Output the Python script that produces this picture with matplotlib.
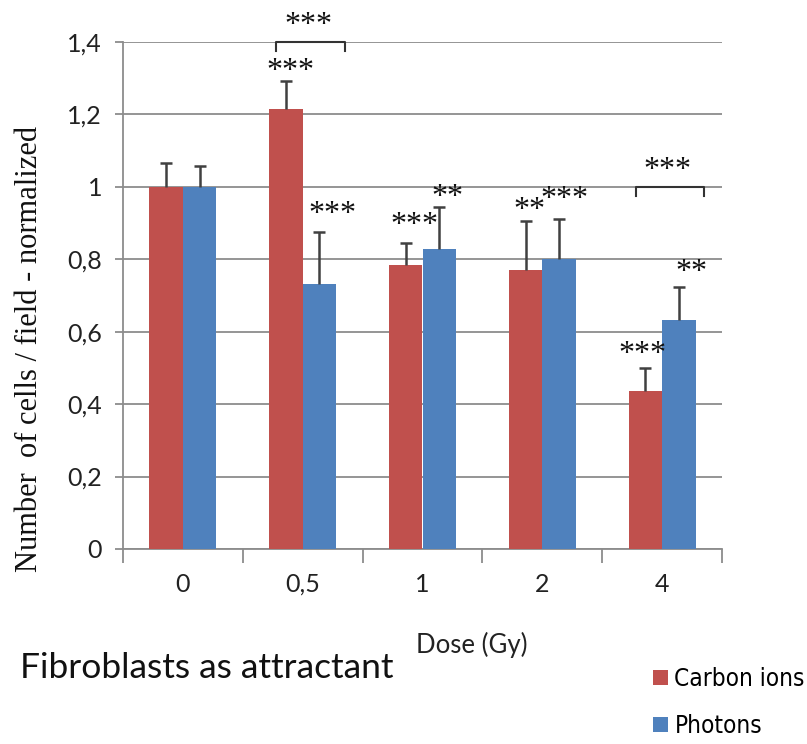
import numpy as np
import matplotlib.pyplot as plt
from matplotlib.ticker import FixedLocator, FuncFormatter

# DATA
DOSES = ["0", "0,5", "1", "2", "4"]
CARBON = [1.0, 1.215, 0.783, 0.770, 0.435]
CARBON_ERR = [0.066, 0.078, 0.061, 0.137, 0.065]
PHOTONS = [1.0, 0.733, 0.829, 0.801, 0.631]
PHOTONS_ERR = [0.058, 0.141, 0.116, 0.110, 0.093]
CARBON_SIG = ["", "***", "***", "**", "***"]
PHOTONS_SIG = ["", "***", "**", "***", "**"]
BRACKET_GROUPS = [1, 4]
BRACKET_SIG = ["***", "***"]
BRACKET_Y = [1.4, 1.0]

# STYLE
RED = "#C0504D"
BLUE = "#4F81BD"
GRID = "#8C8C8C"
ERR = "#404040"
BAR_W = 0.28
# star offsets (points) from the top of each error bar
CARBON_OFF = [None, (3, 7), (6, 13), (3, 7), (-2, 10)]
PHOTONS_OFF = [None, (9, 13), (6, 7), (4, 14), (9, 10)]

fig = plt.figure(figsize=(8.07, 7.44), dpi=100, facecolor="white")
ax = fig.add_axes([123 / 807, 1 - 549 / 744, 599 / 807, 507 / 744])

x = np.arange(len(DOSES))
zeros = np.zeros(len(DOSES))
ekw = dict(ecolor=ERR, elinewidth=1.8, capsize=4.5, capthick=1.8)
b1 = ax.bar(x - BAR_W / 2, CARBON, BAR_W, color=RED, label="Carbon ions", zorder=3,
            yerr=[zeros, CARBON_ERR], error_kw=ekw)
b2 = ax.bar(x + BAR_W / 2, PHOTONS, BAR_W, color=BLUE, label="Photons", zorder=3,
            yerr=[zeros, PHOTONS_ERR], error_kw=ekw)

# only the upper caps should show
for bars, heights in [(b1, CARBON), (b2, PHOTONS)]:
    for cap in bars.errorbar.lines[1]:
        if np.allclose(cap.get_ydata(), heights):
            cap.set_visible(False)

ax.set_xlim(-0.5, len(DOSES) - 0.5)
ax.set_ylim(0, 1.4)

# axes look
for s in ["top", "right"]:
    ax.spines[s].set_visible(False)
for s in ["left", "bottom"]:
    ax.spines[s].set_color(GRID)
    ax.spines[s].set_linewidth(1.3)
ax.yaxis.set_major_locator(FixedLocator(np.arange(0, 1.41, 0.2)))
ax.yaxis.set_major_formatter(FuncFormatter(lambda v, p: f"{v:.1f}".rstrip("0").rstrip(".").replace(".", ",")))
ax.grid(axis="y", color=GRID, linewidth=1.3, zorder=0)
ax.set_axisbelow(True)
ax.tick_params(axis="y", length=6, width=1.3, color=GRID, pad=9, labelsize=18, labelcolor="#222222")

ax.xaxis.set_major_locator(FixedLocator(np.arange(-0.5, len(DOSES), 1.0)))
ax.xaxis.set_major_formatter(FuncFormatter(lambda v, p: ""))
ax.xaxis.set_minor_locator(FixedLocator(x))
ax.set_xticklabels(DOSES, minor=True)
ax.tick_params(axis="x", which="major", length=10, width=1.3, color=GRID)
ax.tick_params(axis="x", which="minor", length=0, pad=17, labelsize=18, labelcolor="#222222")
for lab in ax.get_xticklabels(minor=True) + ax.get_yticklabels():
    lab.set_family("Lato")

# significance stars above the bars
star_font = dict(family="Liberation Serif", fontsize=23, ha="center", va="center", color="#111111")
for i in range(len(DOSES)):
    if CARBON_SIG[i]:
        ax.annotate(CARBON_SIG[i], (x[i] - BAR_W / 2, CARBON[i] + CARBON_ERR[i]),
                    xytext=CARBON_OFF[i], textcoords="offset points", **star_font)
    if PHOTONS_SIG[i]:
        ax.annotate(PHOTONS_SIG[i], (x[i] + BAR_W / 2, PHOTONS[i] + PHOTONS_ERR[i]),
                    xytext=PHOTONS_OFF[i], textcoords="offset points", **star_font)

# brackets comparing carbon vs photons
for g, sig, top in zip(BRACKET_GROUPS, BRACKET_SIG, BRACKET_Y):
    x0, x1 = g - 0.22, g + 0.35
    ax.plot([x0, x0, x1, x1], [top - 0.025, top, top, top - 0.025], color="#333333",
            linewidth=1.5, clip_on=False, zorder=4)
    ax.annotate(sig, ((x0 + x1) / 2 - 0.02, top), xytext=(0, 12), textcoords="offset points", **star_font)

fig.text(30 / 807, 1 - 349 / 744, "Number  of cells / field - normalized", rotation=90,
         family="Liberation Serif", fontsize=22, ha="center", va="center", color="#111111")
fig.text(472 / 807, 1 - 645 / 744, "Dose (Gy)", family="Lato", fontsize=18.5, ha="center",
         va="center", color="#222222")
fig.text(20 / 807, 1 - 668 / 744, "Fibroblasts as attractant", family="Lato", fontsize=25.5,
         ha="left", va="center", color="#111111")

fig.legend(handles=[b1, b2], loc="upper left", bbox_to_anchor=(653 / 807, 1 - 667 / 744),
           frameon=False, prop=dict(family="DejaVu Sans", stretch="condensed", size=17.5),
           handlelength=0.6, handleheight=0.6, handletextpad=0.28, labelspacing=0.95, borderpad=0,
           borderaxespad=0)

fig.savefig("out.png", dpi=100, facecolor="white")
